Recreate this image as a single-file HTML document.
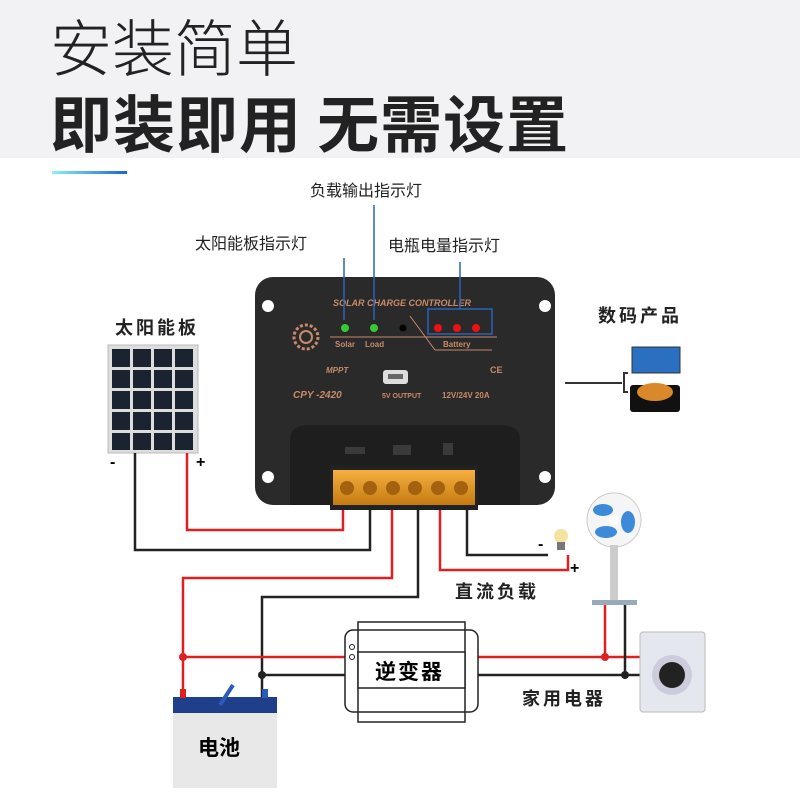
<!DOCTYPE html>
<html><head><meta charset="utf-8"><style>
body{margin:0;width:800px;height:800px;background:#fff;overflow:hidden;font-family:"Liberation Sans","Noto Sans CJK SC",sans-serif}
</style></head><body>
<svg width="800" height="800" viewBox="0 0 800 800" xmlns="http://www.w3.org/2000/svg" font-family="Liberation Sans, Noto Sans CJK SC, sans-serif">
<defs>
<linearGradient id="bl" x1="0" x2="1"><stop offset="0" stop-color="#8ef0f0"/><stop offset="1" stop-color="#1565e0"/></linearGradient>
<linearGradient id="or" x1="0" y1="0" x2="0" y2="1"><stop offset="0" stop-color="#f5b040"/><stop offset="1" stop-color="#c57a10"/></linearGradient>
</defs>
<rect x="0" y="0" width="800" height="158" fill="#f2f2f4"/>
<text x="50" y="71" font-size="62" font-weight="300" fill="#222" font-family="Noto Sans CJK SC, sans-serif">安装简单</text>
<text x="50" y="147" font-size="62" font-weight="bold" fill="#222" letter-spacing="1" font-family="Noto Sans CJK SC, sans-serif">即装即用 无需设置</text>
<rect x="52" y="171" width="75" height="3" fill="url(#bl)"/>

<g font-size="16" fill="#222">
<text x="310" y="196">负载输出指示灯</text>
<text x="195" y="249">太阳能板指示灯</text>
<text x="388" y="251">电瓶电量指示灯</text>
</g>
<g font-size="18" font-weight="bold" fill="#222" letter-spacing="3">
<text x="115" y="334">太阳能板</text>
<text x="598" y="322">数码产品</text>
<text x="455" y="598">直流负载</text>
<text x="522" y="705">家用电器</text>
</g>

<rect x="108" y="345" width="90" height="108" fill="#ddd" stroke="#bbb"/>
<g fill="#1b2230">
<rect x="112" y="349" width="18" height="18"/><rect x="133" y="349" width="18" height="18"/><rect x="154" y="349" width="18" height="18"/><rect x="175" y="349" width="18" height="18"/>
<rect x="112" y="370" width="18" height="18"/><rect x="133" y="370" width="18" height="18"/><rect x="154" y="370" width="18" height="18"/><rect x="175" y="370" width="18" height="18"/>
<rect x="112" y="391" width="18" height="18"/><rect x="133" y="391" width="18" height="18"/><rect x="154" y="391" width="18" height="18"/><rect x="175" y="391" width="18" height="18"/>
<rect x="112" y="412" width="18" height="18"/><rect x="133" y="412" width="18" height="18"/><rect x="154" y="412" width="18" height="18"/><rect x="175" y="412" width="18" height="18"/>
<rect x="112" y="433" width="18" height="17"/><rect x="133" y="433" width="18" height="17"/><rect x="154" y="433" width="18" height="17"/><rect x="175" y="433" width="18" height="17"/>
</g>
<text x="110" y="467" font-size="16" font-weight="bold">-</text>
<text x="196" y="467" font-size="16" font-weight="bold">+</text>

<g fill="none" stroke-width="2.5">
<polyline points="135,453 135,550 370,550 370,505" stroke="#222"/>
<polyline points="187,453 187,530 343,530 343,505" stroke="#e02020"/>
<polyline points="392,505 392,578 183,578 183,700" stroke="#e02020"/>
<polyline points="418,505 418,597 262,597 262,700" stroke="#222"/>
<polyline points="440,505 440,570 568,570 568,555" stroke="#e02020"/>
<polyline points="467,505 467,555 548,555" stroke="#222"/>
<line x1="183" y1="657" x2="345" y2="657" stroke="#e02020"/>
<line x1="262" y1="675" x2="345" y2="675" stroke="#222"/>
<line x1="478" y1="657" x2="640" y2="657" stroke="#e02020"/>
<line x1="478" y1="675" x2="640" y2="675" stroke="#222"/>
<line x1="605" y1="605" x2="605" y2="657" stroke="#e02020"/>
<line x1="625" y1="605" x2="625" y2="675" stroke="#222"/>
</g>
<circle cx="183" cy="657" r="4" fill="#e02020"/><circle cx="605" cy="657" r="4" fill="#e02020"/>
<circle cx="262" cy="675" r="4" fill="#222"/><circle cx="625" cy="675" r="4" fill="#222"/>
<text x="538" y="549" font-size="16" font-weight="bold">-</text>
<text x="570" y="573" font-size="16" font-weight="bold">+</text>

<rect x="255" y="277" width="300" height="228" rx="18" fill="#2a2a2a"/>
<path d="M290 505 L290 440 Q290 425 310 425 L500 425 Q520 425 520 440 L520 505 Z" fill="#1e1e1e"/>
<circle cx="268" cy="306" r="6" fill="#fff"/><circle cx="545" cy="306" r="6" fill="#fff"/>
<circle cx="268" cy="477" r="6" fill="#fff"/><circle cx="545" cy="477" r="6" fill="#fff"/>
<text x="333" y="306" font-size="9" font-weight="bold" font-style="italic" fill="#c88a6a">SOLAR CHARGE CONTROLLER</text>
<circle cx="306" cy="337" r="12" fill="none" stroke="#c88a6a" stroke-width="3" stroke-dasharray="3 2"/>
<circle cx="306" cy="337" r="6" fill="none" stroke="#c88a6a" stroke-width="2"/>
<circle cx="345" cy="328" r="4" fill="#3c3"/><circle cx="374" cy="328" r="4" fill="#3c3"/><circle cx="403" cy="328" r="3.5" fill="#000"/>
<circle cx="438" cy="328" r="4" fill="#e11"/><circle cx="457" cy="328" r="4" fill="#e11"/><circle cx="476" cy="328" r="4" fill="#e11"/>
<line x1="330" y1="337" x2="497" y2="337" stroke="#c88a6a"/>
<line x1="410" y1="316" x2="435" y2="350" stroke="#c88a6a"/>
<line x1="435" y1="350" x2="492" y2="350" stroke="#c88a6a"/>
<g font-size="8" fill="#c88a6a" font-weight="bold"><text x="335" y="347">Solar</text><text x="365" y="347">Load</text><text x="443" y="347">Battery</text>
<text x="326" y="373" font-style="italic">MPPT</text><text x="293" y="398" font-size="10" font-style="italic">CPY -2420</text>
<text x="382" y="398" font-size="7">5V OUTPUT</text><text x="442" y="398" font-size="8">12V/24V  20A</text><text x="490" y="373" font-size="9">CE</text></g>
<rect x="383" y="370" width="25" height="14" rx="3" fill="#ddd"/><rect x="388" y="374" width="15" height="5" fill="#666"/>
<g fill="#3a3a3a"><rect x="345" y="447" width="20" height="7"/><rect x="393" y="445" width="18" height="10"/><rect x="443" y="443" width="10" height="12"/></g>
<rect x="330" y="465" width="148" height="45" fill="#222"/>
<rect x="333" y="470" width="142" height="35" fill="url(#or)"/>
<g fill="#a56010"><circle cx="347" cy="488" r="7"/><circle cx="370" cy="488" r="7"/><circle cx="393" cy="488" r="7"/><circle cx="415" cy="488" r="7"/><circle cx="438" cy="488" r="7"/><circle cx="461" cy="488" r="7"/></g>
<g stroke="#2a63b8" stroke-width="1.5" fill="none">
<line x1="344" y1="258" x2="344" y2="320"/><line x1="374" y1="205" x2="374" y2="320"/><line x1="460" y1="262" x2="460" y2="309"/>
<rect x="428" y="309" width="64" height="25"/></g>

<line x1="565" y1="383" x2="622" y2="383" stroke="#333" stroke-width="2"/>
<path d="M628 373 L624 373 L624 392 L628 392" stroke="#333" fill="none" stroke-width="2"/>
<rect x="632" y="347" width="48" height="26" fill="#2a6fc0" stroke="#333"/>
<rect x="630" y="385" width="50" height="27" rx="3" fill="#111"/>
<ellipse cx="655" cy="392" rx="18" ry="9" fill="#d9882a"/>

<circle cx="561" cy="536" r="7" fill="#f3e2a0"/><rect x="557" y="542" width="8" height="8" fill="#777"/>
<circle cx="614" cy="520" r="27" fill="#f5f5f5" stroke="#ccc"/>
<ellipse cx="603" cy="510" rx="10" ry="6" fill="#3d8ad8"/><ellipse cx="628" cy="522" rx="7" ry="11" fill="#3d8ad8"/><ellipse cx="606" cy="532" rx="11" ry="6" fill="#3d8ad8"/>
<circle cx="614" cy="520" r="5" fill="#fff"/>
<rect x="610" y="545" width="8" height="55" fill="#ccc"/>
<rect x="592" y="600" width="45" height="5" fill="#9ab"/>

<rect x="345" y="630" width="133" height="82" rx="8" fill="#fff" stroke="#222" stroke-width="1.5"/>
<rect x="358" y="622" width="107" height="100" fill="none" stroke="#222" stroke-width="1.5"/>
<rect x="358" y="652" width="107" height="36" fill="#fff" stroke="#222" stroke-width="1.5"/>
<circle cx="352" cy="647" r="2.5" fill="none" stroke="#222"/><circle cx="352" cy="657" r="2.5" fill="none" stroke="#222"/>
<text x="375" y="679" font-size="21" font-weight="bold" letter-spacing="2">逆变器</text>

<rect x="640" y="632" width="65" height="80" rx="3" fill="#e4e8ee" stroke="#bbb"/>
<circle cx="672" cy="675" r="20" fill="#ccd"/><circle cx="672" cy="675" r="13" fill="#222"/>

<rect x="173" y="710" width="104" height="78" fill="#e8e8e8"/>
<rect x="173" y="697" width="104" height="16" fill="#1f3f8a"/>
<rect x="180" y="689" width="6" height="9" fill="#e02020"/><rect x="262" y="689" width="6" height="9" fill="#2a5bb8"/>
<line x1="220" y1="705" x2="233" y2="685" stroke="#2a5bb8" stroke-width="4"/>
<text x="198" y="755" font-size="21" font-weight="bold">电池</text>
</svg>
</body></html>
